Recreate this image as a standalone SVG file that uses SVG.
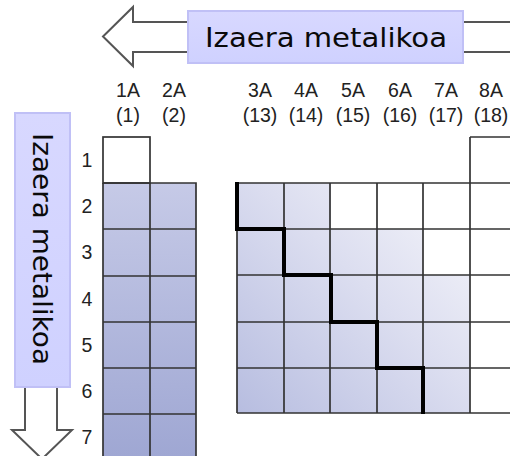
<svg xmlns="http://www.w3.org/2000/svg" width="510" height="456" viewBox="0 0 510 456">
  <defs>
    <linearGradient id="gLeft" gradientUnits="userSpaceOnUse" x1="0" y1="183" x2="0" y2="456">
      <stop offset="0" stop-color="#c6cae7"/>
      <stop offset="1" stop-color="#9fa7d3"/>
    </linearGradient>
    <linearGradient id="gRight" gradientUnits="userSpaceOnUse" x1="237" y1="413" x2="470" y2="183">
      <stop offset="0" stop-color="#b7bde0"/>
      <stop offset="0.55" stop-color="#dcdef0"/>
      <stop offset="1" stop-color="#f7f7fb"/>
    </linearGradient>
    <linearGradient id="gLabel" x1="0" y1="0" x2="0" y2="1">
      <stop offset="0" stop-color="#d8d8ff"/>
      <stop offset="1" stop-color="#cfd1ff"/>
    </linearGradient>
  </defs>
  <style>
    .lbl { font-family: "Liberation Sans", Arial, sans-serif; font-size: 19.5px; fill: #222222; text-anchor: middle; }
    .grid { fill: none; stroke: #333333; stroke-width: 1.7; }
    .arrow { fill: #ffffff; stroke: #555555; stroke-width: 2; stroke-linejoin: miter; }
    .box { fill: url(#gLabel); stroke: #c0c0f6; stroke-width: 2; }
    .big { font-family: "DejaVu Sans", sans-serif; font-size: 27px; fill: #0a0a0a; text-anchor: middle; }
    .stair { fill: none; stroke: #000000; stroke-width: 4; stroke-linejoin: miter; }
  </style>

  <rect width="510" height="456" fill="#ffffff"/>

  <!-- horizontal trend arrow -->
  <g id="arrow-horizontal">
    <path class="arrow" d="M103,36.5 L133,7 L133,22 L512,22 L512,52 L133,52 L133,66 Z"/>
    <rect class="box" x="188" y="11" width="275" height="52"/>
    <text class="big" x="326" y="47" textLength="242" lengthAdjust="spacingAndGlyphs">Izaera metalikoa</text>
  </g>

  <!-- vertical trend arrow -->
  <g id="arrow-vertical">
    <path class="arrow" d="M25,380 L57,380 L57,430 L72,430 L42,459 L12,430 L25,430 Z"/>
    <rect class="box" x="15" y="113" width="55" height="274"/>
    <text class="big" transform="translate(42,249) rotate(90)" x="0" y="0" dominant-baseline="central" textLength="232" lengthAdjust="spacingAndGlyphs">Izaera metalikoa</text>
  </g>

  <!-- group headings -->
  <g id="group-labels">
    <text class="lbl" x="128" y="97">1A</text>
    <text class="lbl" x="128" y="122">(1)</text>
    <text class="lbl" x="174" y="97">2A</text>
    <text class="lbl" x="174" y="122">(2)</text>
    <text class="lbl" x="260" y="97">3A</text>
    <text class="lbl" x="260" y="122">(13)</text>
    <text class="lbl" x="306" y="97">4A</text>
    <text class="lbl" x="306" y="122">(14)</text>
    <text class="lbl" x="353" y="97">5A</text>
    <text class="lbl" x="353" y="122">(15)</text>
    <text class="lbl" x="400" y="97">6A</text>
    <text class="lbl" x="400" y="122">(16)</text>
    <text class="lbl" x="446" y="97">7A</text>
    <text class="lbl" x="446" y="122">(17)</text>
    <text class="lbl" x="491" y="97">8A</text>
    <text class="lbl" x="491" y="122">(18)</text>
  </g>

  <!-- period numbers -->
  <g id="period-labels">
    <text class="lbl" x="87" y="167">1</text>
    <text class="lbl" x="87" y="213">2</text>
    <text class="lbl" x="87" y="259">3</text>
    <text class="lbl" x="87" y="306">4</text>
    <text class="lbl" x="87" y="352">5</text>
    <text class="lbl" x="87" y="398">6</text>
    <text class="lbl" x="87" y="444">7</text>
  </g>

  <!-- s-block: groups 1A and 2A -->
  <g id="s-block">
    <rect x="103" y="183" width="93" height="280" fill="url(#gLeft)"/>
    <rect class="grid" x="103" y="137" width="47" height="46"/>
    <path class="grid" d="M103,183 H196 V460 M103,183 V460 M150,183 V460 M103,229 H196 M103,276 H196 M103,322 H196 M103,368 H196 M103,414 H196"/>
  </g>

  <!-- p-block: groups 3A to 8A -->
  <g id="p-block">
    <path fill="url(#gRight)" d="M237,183 H331 V229 H423 V275 H470 V413 H237 Z"/>
    <path class="grid" d="M470,137 H512 M470,137 V413 M237,183 H512 M237,229 H512 M237,275 H512 M237,322 H512 M237,368 H512 M237,413 H512 M237,183 V413 M284,183 V413 M330,183 V413 M377,183 V413 M423,183 V413"/>
    <path class="stair" d="M237,182 V229 H284 V275 H331 V322 H377 V368 H423 V414"/>
  </g>
</svg>
